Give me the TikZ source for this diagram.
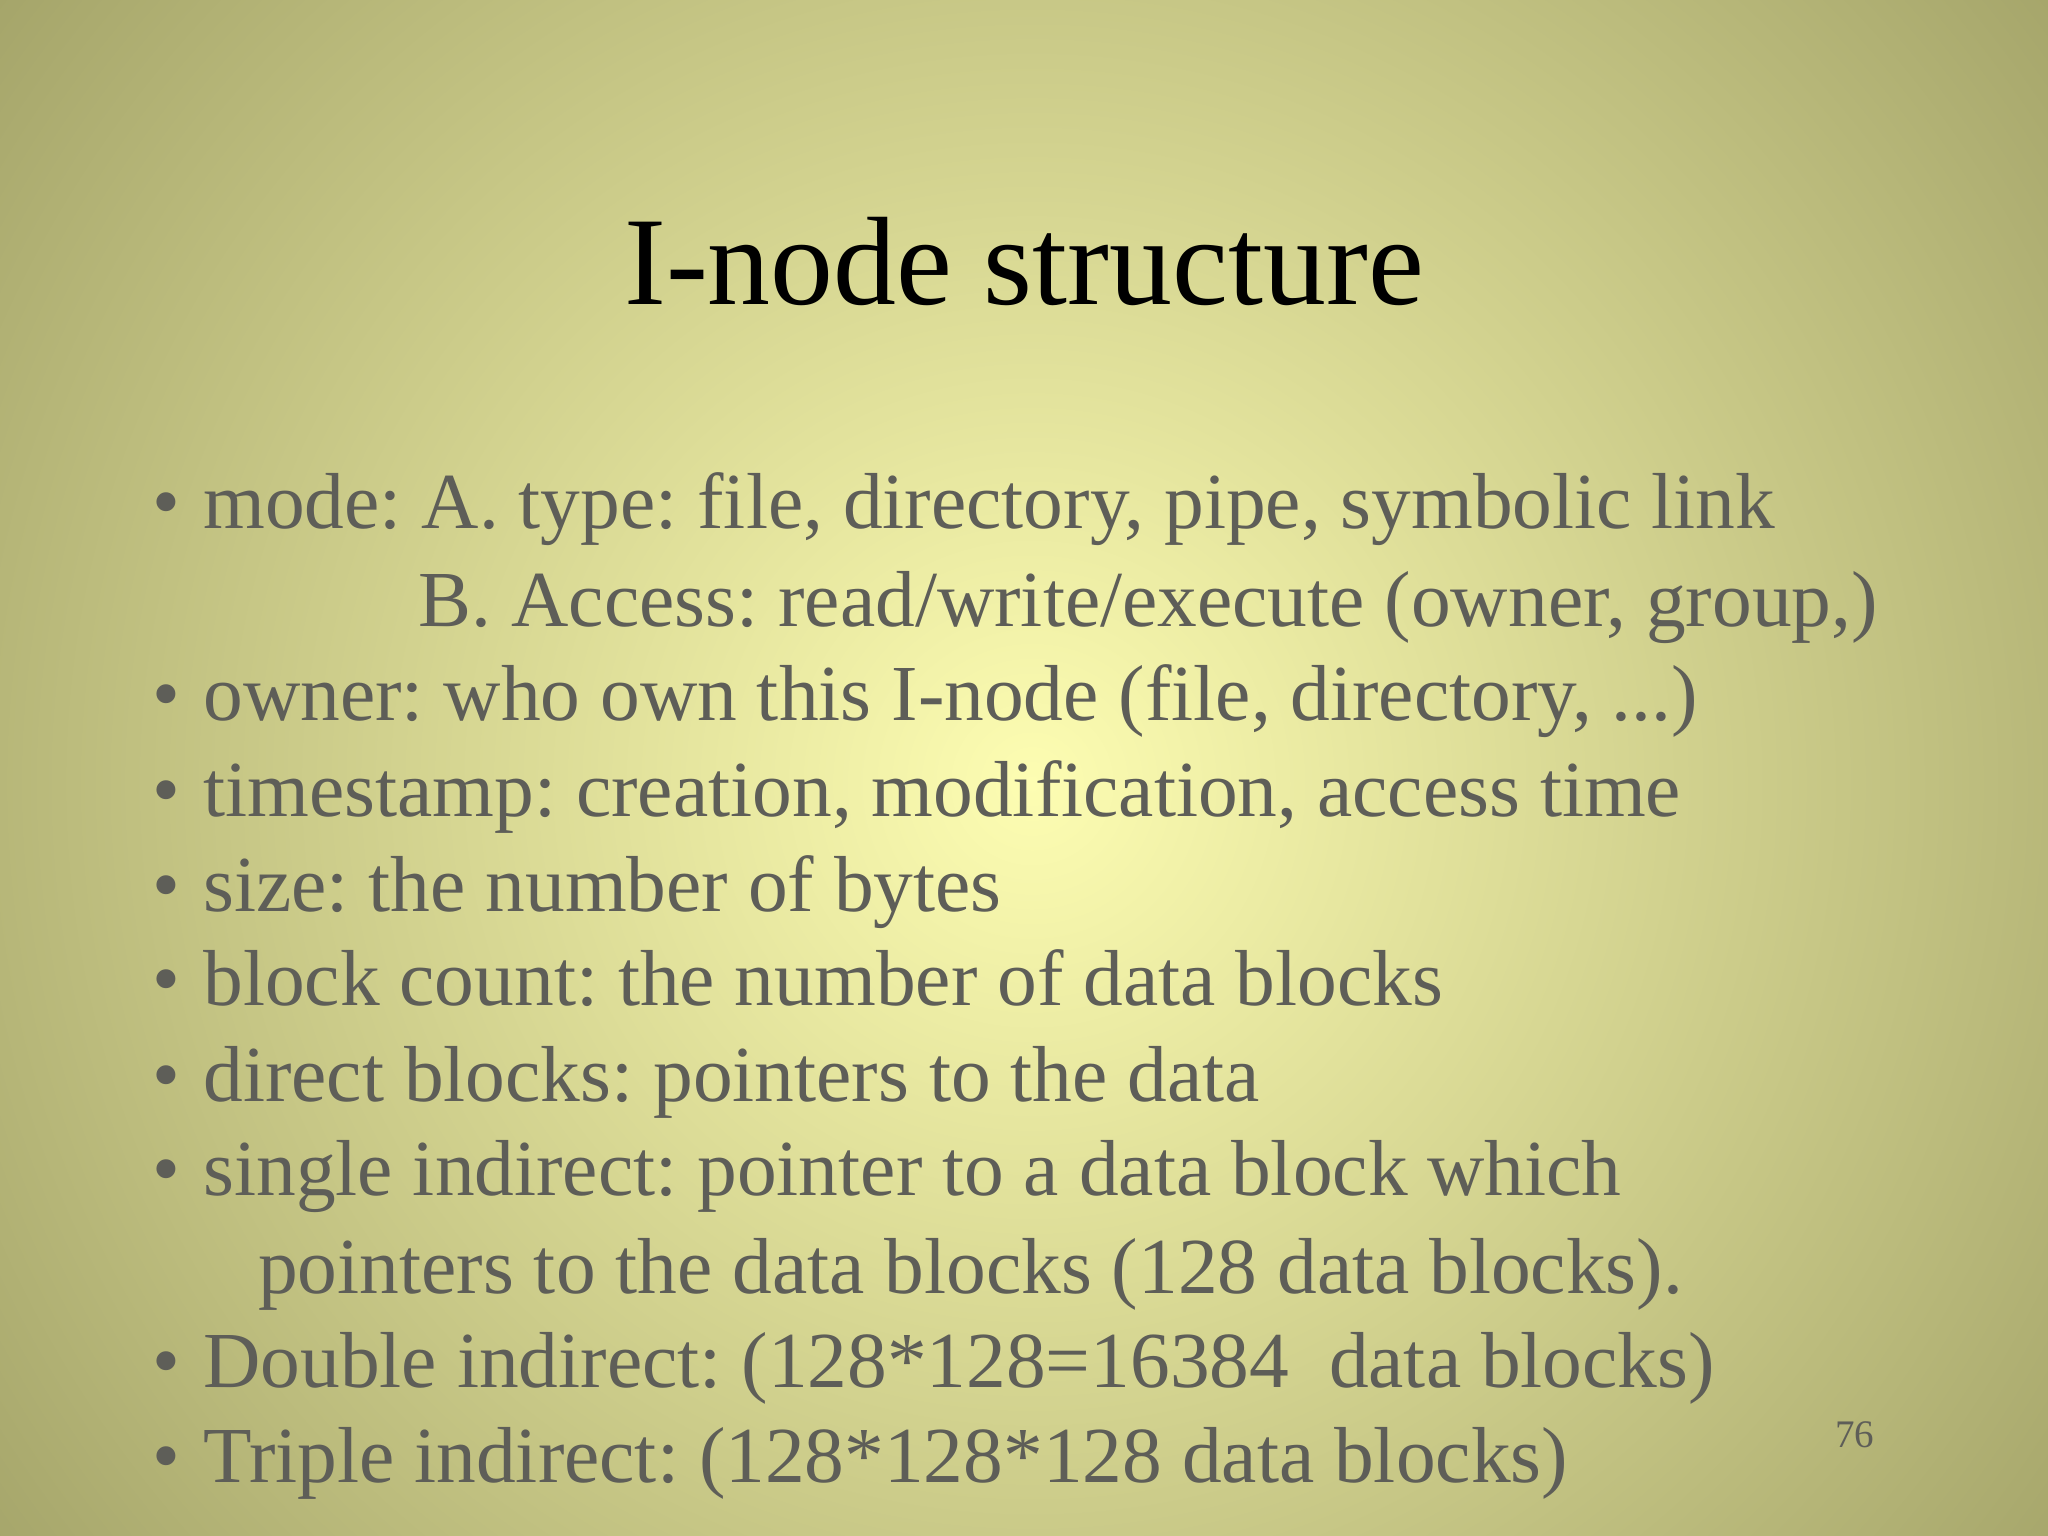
\documentclass[tikz,border=0pt]{standalone}
\usepackage{fontspec}
\setmainfont{Liberation Serif}
\begin{document}
\frenchspacing
\begin{tikzpicture}[x=1cm,y=1cm,
  body/.style={anchor=base west,inner sep=0pt,text=bodygray,font=\fontsize{17.3pt}{20pt}\selectfont\frenchspacing},
  bul/.style={anchor=base west,inner sep=0pt,text=bodygray,font=\fontsize{17.3pt}{20pt}\selectfont}]
\definecolor{bodygray}{HTML}{5E5E58}
\definecolor{bgin}{HTML}{FDFDB2}
\definecolor{bgout}{HTML}{A0A066}
\useasboundingbox (0,0) rectangle (15.68,-11.76);
\begin{scope}
\clip (0,0) rectangle (15.68,-11.76);
\fill[bgout] (0,0) rectangle (15.68,-11.76);
\shade[inner color=bgin,outer color=bgout] (7.9,-6.0) circle (10.5);
\end{scope}
\node[anchor=base,inner sep=0pt,font=\fontsize{27.4pt}{30pt}\selectfont] (title) at (7.84,-2.33) {I-node structure};
\foreach \y/\n in {4.05/a,5.52/c,6.25/d,6.98/e,7.70/f,8.43/g,9.15/h,10.62/j,11.35/k}
  \node[bul] (b\n) at (1.16,-\y) {•};
\node[body] (la) at (1.55,-4.05) {mode: A. type: file, directory, pipe, symbolic link};
\node[body] (lb) at (3.20,-4.80) {B. Access: read/write/execute (owner, group,)};
\node[body] (lc) at (1.55,-5.52) {owner: who own this I-node (file, directory, ...)};
\node[body] (ld) at (1.55,-6.25) {timestamp: creation, modification, access time};
\node[body] (le) at (1.55,-6.98) {size: the number of bytes};
\node[body] (lf) at (1.55,-7.70) {block count: the number of data blocks};
\node[body] (lg) at (1.55,-8.43) {direct blocks: pointers to the data};
\node[body] (lh) at (1.55,-9.15) {single indirect: pointer to a data block which};
\node[body] (li) at (1.97,-9.90) {pointers to the data blocks (128 data blocks).};
\node[body] (lj) at (1.55,-10.62) {Double indirect: (128*128=16384~ data blocks)};
\node[body] (lk) at (1.55,-11.35) {Triple indirect: (128*128*128 data blocks)};
\node[anchor=base,inner sep=0pt,text=bodygray,font=\fontsize{8.5pt}{10pt}\selectfont] (num) at (14.20,-11.08) {76};
\end{tikzpicture}
\end{document}
